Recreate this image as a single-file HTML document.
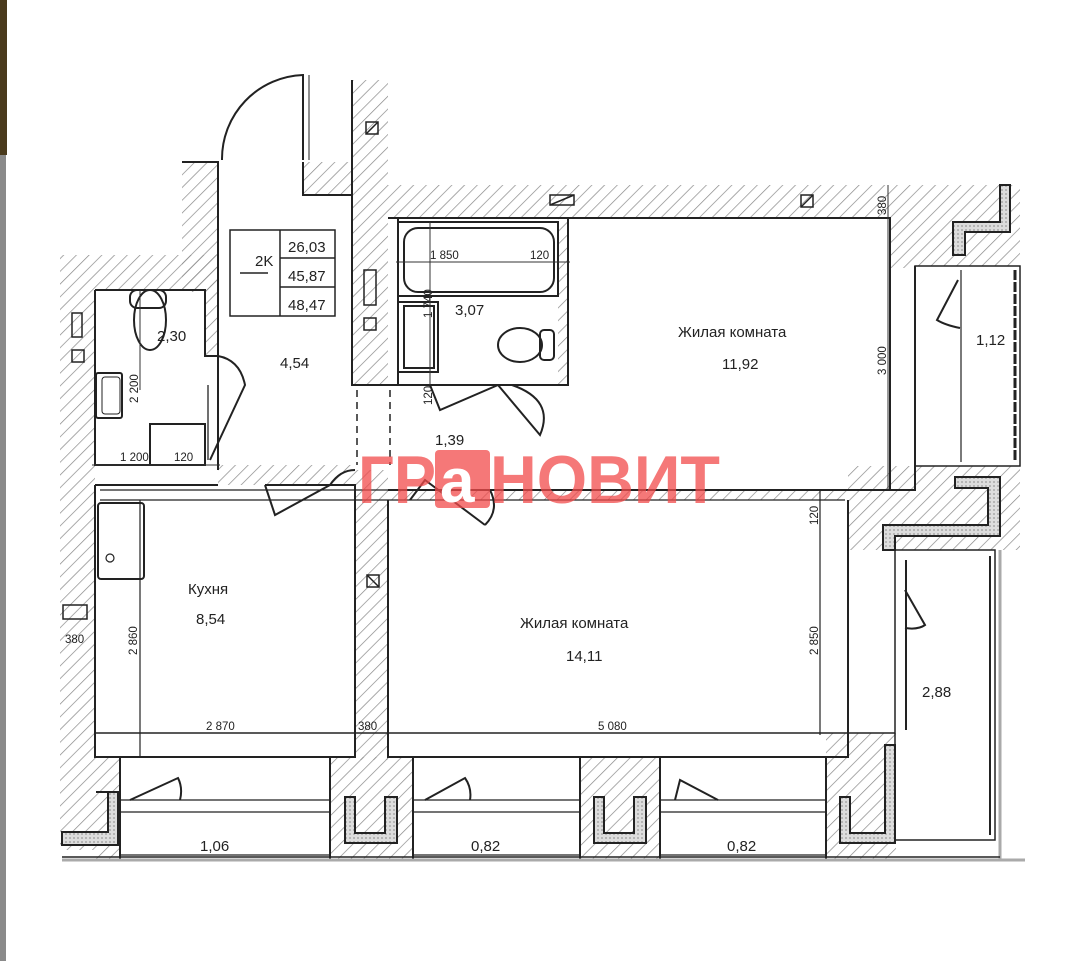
<!DOCTYPE html>
<html><head><meta charset="utf-8"><style>
html,body{margin:0;padding:0;background:#fff;}
svg{display:block;}
text{font-family:"Liberation Sans","DejaVu Sans",sans-serif;fill:#222;}
</style></head><body>
<svg width="1080" height="961" viewBox="0 0 1080 961" xmlns="http://www.w3.org/2000/svg">
<defs>
<pattern id="h" patternUnits="userSpaceOnUse" width="9" height="9" patternTransform="rotate(45)">
<line x1="0" y1="0" x2="0" y2="9" stroke="#888" stroke-width="1.4"/>
</pattern>
<pattern id="ins" patternUnits="userSpaceOnUse" width="4" height="4">
<rect width="4" height="4" fill="#ddd"/><circle cx="2" cy="2" r="0.9" fill="#999"/>
</pattern>
</defs>
<rect width="1080" height="961" fill="#fff"/>
<rect x="0" y="0" width="7" height="155" fill="#4a3a1c"/>
<rect x="0" y="155" width="6" height="806" fill="#8a8a8a"/>

<g fill="url(#h)">
<rect x="182" y="162" width="36" height="130"/>
<rect x="303" y="162" width="49" height="34"/>
<rect x="352" y="80" width="36" height="306"/>
<rect x="388" y="185" width="632" height="33"/>
<rect x="60" y="255" width="158" height="35"/>
<rect x="60" y="290" width="35" height="560"/>
<rect x="205" y="290" width="13" height="66"/>
<rect x="218" y="465" width="137" height="20"/>
<rect x="355" y="470" width="33" height="290"/>
<rect x="388" y="490" width="460" height="10"/>
<rect x="558" y="218" width="10" height="167"/>
<rect x="890" y="218" width="25" height="50"/>
<rect x="915" y="218" width="105" height="48"/>
<rect x="848" y="466" width="172" height="84"/>
<rect x="826" y="733" width="70" height="127"/>
<rect x="330" y="757" width="83" height="103"/>
<rect x="580" y="757" width="80" height="103"/>
<rect x="95" y="757" width="25" height="103"/>
</g>

<g fill="url(#ins)" stroke="#222" stroke-width="2">
<path d="M96 792 H118 V845 H62 V832 H108 V792Z"/>
<path d="M345 797 H355 V833 H385 V797 H397 V843 H345Z"/>
<path d="M594 797 H604 V833 H634 V797 H646 V843 H594Z"/>
<path d="M840 797 H850 V833 H885 V745 H895 V843 H840Z"/>
<path d="M953 222 H1000 V185 H1010 V232 H965 V255 H953Z"/>
<path d="M955 477 H1000 V536 H895 V550 H883 V525 H988 V488 H955Z"/>
</g>

<g fill="none" stroke="#222" stroke-width="2">
<path d="M182 162 H218 V195 M218 162 V470"/>
<path d="M303 162 V195 H352 M352 80 V385 H388"/>
<path d="M222 160 A84 84 0 0 1 303 75 V160"/>
<line x1="309" y1="75" x2="309" y2="160" stroke-width="1"/>
<path d="M95 290 H205 V356 H218 M95 290 V465 H205"/>
<path d="M218 356 Q240 360 245 385 L210 460"/>
<line x1="208" y1="385" x2="208" y2="460" stroke-width="1.3"/>
<rect x="150" y="424" width="55" height="41"/>
<rect x="96" y="373" width="26" height="45" rx="2"/>
<rect x="102" y="377" width="18" height="37" rx="3" stroke-width="1"/>
<ellipse cx="150" cy="320" rx="16" ry="30"/>
<rect x="130" y="290" width="36" height="18" rx="7"/>
<path d="M388 218 H568 V385 H388 M398 218 V385"/>
<rect x="398" y="222" width="160" height="74"/>
<rect x="404" y="228" width="150" height="64" rx="14"/>
<rect x="398" y="302" width="40" height="70"/>
<rect x="404" y="306" width="30" height="62"/>
<ellipse cx="520" cy="345" rx="22" ry="17"/>
<rect x="540" y="330" width="14" height="30" rx="4"/>
<path d="M430 385 L440 410 L498 385 M512 385 Q555 400 540 435 L498 385"/>
<path d="M568 218 H890 V490 H388 M890 218 V490 H915 V266"/>
<rect x="915" y="266" width="105" height="200" stroke-width="1.5"/>
<line x1="961" y1="270" x2="961" y2="462" stroke-width="1.2"/>
<line x1="1015" y1="270" x2="1015" y2="462" stroke-width="3" stroke-dasharray="10 2"/>
<path d="M958 280 L937 320 Q945 325 960 328"/>
<path d="M95 485 H218 M265 485 H355 V757 H95 V485"/>
<line x1="100" y1="490" x2="845" y2="490" stroke-width="1.2"/>
<line x1="100" y1="500" x2="845" y2="500" stroke-width="1.2"/>
<rect x="98" y="503" width="46" height="76" rx="3"/>
<line x1="140" y1="500" x2="140" y2="757" stroke-width="1.2"/>
<circle cx="110" cy="558" r="4" stroke-width="1.2"/>
<path d="M265 485 L275 515 L330 485 M330 485 Q340 470 355 470"/>
<path d="M388 500 V757 H848 V500"/>
<path d="M410 500 L425 480 L485 525 M485 525 Q500 510 490 490"/>
<line x1="820" y1="490" x2="820" y2="735" stroke-width="1.2"/>
<line x1="95" y1="733" x2="895" y2="733" stroke-width="1.5"/>
<rect x="895" y="550" width="100" height="290" stroke-width="1.5"/>
<line x1="906" y1="560" x2="906" y2="730" stroke-width="2"/>
<line x1="990" y1="556" x2="990" y2="835" stroke-width="2"/>
<path d="M905 590 L925 625 Q918 630 905 628"/>
<line x1="1000" y1="550" x2="1000" y2="860" stroke="#aaa" stroke-width="3"/>
<path d="M120 757 V860 M330 757 V860 M413 757 V860 M580 757 V860 M660 757 V860 M826 757 V860"/>
<g stroke-width="1.3">
<path d="M120 800 H330 M120 812 H330 M413 800 H580 M413 812 H580 M660 800 H826 M660 812 H826"/>
<path d="M120 855 H330 M413 855 H580 M660 855 H826"/>
</g>
<path d="M130 800 L178 778 Q183 788 180 800 M425 800 L465 778 Q472 788 470 800 M675 800 L680 780 L718 800"/>
</g>
<line x1="62" y1="860" x2="1025" y2="860" stroke="#aaa" stroke-width="3"/>
<line x1="62" y1="857" x2="1000" y2="857" stroke="#222" stroke-width="1.5"/>

<g stroke="#222" stroke-width="1.5" stroke-dasharray="7 5">
<line x1="357" y1="390" x2="357" y2="465"/><line x1="390" y1="390" x2="390" y2="465"/>
</g>
<g fill="none" stroke="#222" stroke-width="1.5">
<rect x="366" y="122" width="12" height="12"/><line x1="366" y1="134" x2="378" y2="122"/>
<rect x="801" y="195" width="12" height="12"/><line x1="801" y1="207" x2="813" y2="195"/>
<rect x="367" y="575" width="12" height="12"/><line x1="367" y1="575" x2="379" y2="587"/>
<rect x="550" y="195" width="24" height="10"/><line x1="550" y1="205" x2="574" y2="195"/>
<rect x="72" y="313" width="10" height="24"/><rect x="72" y="350" width="12" height="12"/>
<rect x="364" y="270" width="12" height="35"/><rect x="364" y="318" width="12" height="12"/>
<rect x="63" y="605" width="24" height="14"/>
</g>

<g fill="none" stroke="#222" stroke-width="1.5">
<rect x="230" y="230" width="105" height="86"/>
<line x1="280" y1="230" x2="280" y2="316"/>
<line x1="280" y1="258" x2="335" y2="258"/><line x1="280" y1="287" x2="335" y2="287"/>
<line x1="240" y1="273" x2="268" y2="273"/>
</g>
<g font-size="15">
<text x="255" y="266">2K</text>
<text x="288" y="252">26,03</text><text x="288" y="281">45,87</text><text x="288" y="310">48,47</text>
</g>

<g font-size="15">
<text x="157" y="341">2,30</text>
<text x="280" y="368">4,54</text>
<text x="455" y="315">3,07</text>
<text x="435" y="445">1,39</text>
<text x="678" y="337">Жилая комната</text>
<text x="722" y="369">11,92</text>
<text x="976" y="345">1,12</text>
<text x="188" y="594">Кухня</text>
<text x="196" y="624">8,54</text>
<text x="520" y="628">Жилая комната</text>
<text x="566" y="661">14,11</text>
<text x="922" y="697">2,88</text>
<text x="200" y="851">1,06</text>
<text x="471" y="851">0,82</text>
<text x="727" y="851">0,82</text>
</g>
<g font-size="11.5" fill="#333">
<text x="430" y="259">1 850</text><text x="530" y="259">120</text>
<text x="120" y="461">1 200</text><text x="174" y="461">120</text>
<text x="206" y="730">2 870</text><text x="358" y="730">380</text>
<text x="598" y="730">5 080</text>
<text x="65" y="643">380</text>
<text transform="translate(138,403) rotate(-90)">2 200</text>
<text transform="translate(432,318) rotate(-90)">1 740</text>
<text transform="translate(432,405) rotate(-90)">120</text>
<text transform="translate(137,655) rotate(-90)">2 860</text>
<text transform="translate(818,655) rotate(-90)">2 850</text>
<text transform="translate(818,525) rotate(-90)">120</text>
<text transform="translate(886,375) rotate(-90)">3 000</text>
<text transform="translate(886,215) rotate(-90)">380</text>
</g>
<g stroke="#333" stroke-width="1">
<line x1="396" y1="262" x2="570" y2="262"/><line x1="92" y1="465" x2="220" y2="465"/>
<line x1="140" y1="390" x2="140" y2="290"/><line x1="430" y1="222" x2="430" y2="385"/>
<line x1="888" y1="185" x2="888" y2="490"/>
</g>

<g opacity="0.75">
<text x="358" y="503" font-size="68" font-weight="bold" style="fill:#f24b4b" textLength="78" lengthAdjust="spacingAndGlyphs">ГР</text>
<rect x="435" y="450" width="55" height="58" rx="4" fill="#f24b4b"/>
<text x="490" y="503" font-size="68" font-weight="bold" style="fill:#f24b4b" textLength="230" lengthAdjust="spacingAndGlyphs">НОВИТ</text>
</g>
<text x="440" y="502" font-size="62" font-weight="bold" style="fill:#fff">а</text>
</svg>
</body></html>
